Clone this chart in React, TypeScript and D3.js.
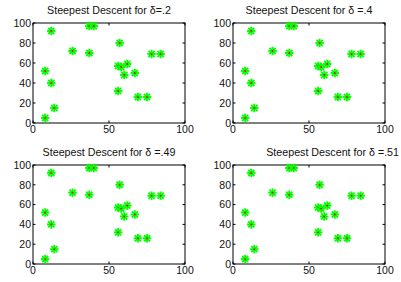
import React from "react";
import * as d3 from "d3";

// points plotted in every panel (same data set)
const xs = [8, 8, 12, 12, 14, 26, 37, 40, 37, 57, 56, 58, 62, 60, 67, 56, 69, 75, 78, 84];
const ys = [5, 52, 92, 40, 15, 72, 97, 97, 70, 80, 57, 56, 59, 48, 50, 32, 26, 26, 69, 69];

const titles = [
  "Steepest Descent for δ=.2",
  "Steepest Descent for δ =.4",
  "Steepest Descent for δ =.49",
  "Steepest Descent for δ =.51",
];
const xTicks = [0, 50, 100];
const yTicks = [0, 20, 40, 60, 80, 100];

const width = 401;
const height = 282;
const font = "'Liberation Sans', Arial, Helvetica, sans-serif";

// axes boxes for the 2x2 grid
const panels = [
  { left: 33, top: 23, w: 152, h: 100, titleX: 109, anchor: "middle" },
  { left: 233, top: 23, w: 152, h: 100, titleX: 309, anchor: "middle" },
  { left: 33, top: 165, w: 152, h: 99, titleX: 109, anchor: "middle" },
  { left: 233, top: 165, w: 152, h: 99, titleX: 399, anchor: "end" },
];

function Star({ cx, cy }: { cx: number; cy: number }) {
  const r = 3.3;
  const d = r * 0.72;
  return (
    <g stroke="#00ff00" strokeWidth={1.9} strokeLinecap="square">
      <line x1={cx - r} y1={cy} x2={cx + r} y2={cy} />
      <line x1={cx} y1={cy - r} x2={cx} y2={cy + r} />
      <line x1={cx - d} y1={cy - d} x2={cx + d} y2={cy + d} />
      <line x1={cx - d} y1={cy + d} x2={cx + d} y2={cy - d} />
      <circle cx={cx} cy={cy} r={0.9} fill="#ff0000" stroke="none" />
    </g>
  );
}

function Panel({ p, title }: { p: (typeof panels)[0]; title: string }) {
  const x = d3.scaleLinear().domain([0, 100]).range([0, p.w]);
  const y = d3.scaleLinear().domain([0, 100]).range([p.h, 0]);
  const tl = 2.5;
  return (
    <g transform={`translate(${p.left},${p.top})`}>
      <text
        x={p.titleX - p.left}
        y={-9}
        textAnchor={p.anchor as any}
        fontSize={10.7}
        fontFamily={font}
        fill="#111"
      >
        {title}
      </text>
      <rect width={p.w} height={p.h} fill="white" stroke="black" strokeWidth={1} />
      {xTicks.map((t) => (
        <g key={"x" + t}>
          <line x1={x(t)} x2={x(t)} y1={p.h} y2={p.h - tl} stroke="black" />
          <line x1={x(t)} x2={x(t)} y1={0} y2={tl} stroke="black" />
          <text
            x={x(t)}
            y={p.h + 10}
            textAnchor="middle"
            fontSize={10.5}
            fontFamily={font}
            fill="#111"
          >
            {t}
          </text>
        </g>
      ))}
      {yTicks.map((t) => (
        <g key={"y" + t}>
          <line x1={0} x2={tl} y1={y(t)} y2={y(t)} stroke="black" />
          <line x1={p.w} x2={p.w - tl} y1={y(t)} y2={y(t)} stroke="black" />
          <text
            x={-2}
            y={y(t)}
            dy="0.36em"
            textAnchor="end"
            fontSize={10.5}
            fontFamily={font}
            fill="#111"
          >
            {t}
          </text>
        </g>
      ))}
      {xs.map((v, i) => (
        <Star key={i} cx={x(v)} cy={y(ys[i])} />
      ))}
    </g>
  );
}

export default function App() {
  return (
    <svg
      width={width}
      height={height}
      style={{ position: "absolute", left: 0, top: 0, background: "white", overflow: "hidden" }}
    >
      <rect width={width} height={height} fill="white" />
      {panels.map((p, i) => (
        <Panel key={i} p={p} title={titles[i]} />
      ))}
    </svg>
  );
}
